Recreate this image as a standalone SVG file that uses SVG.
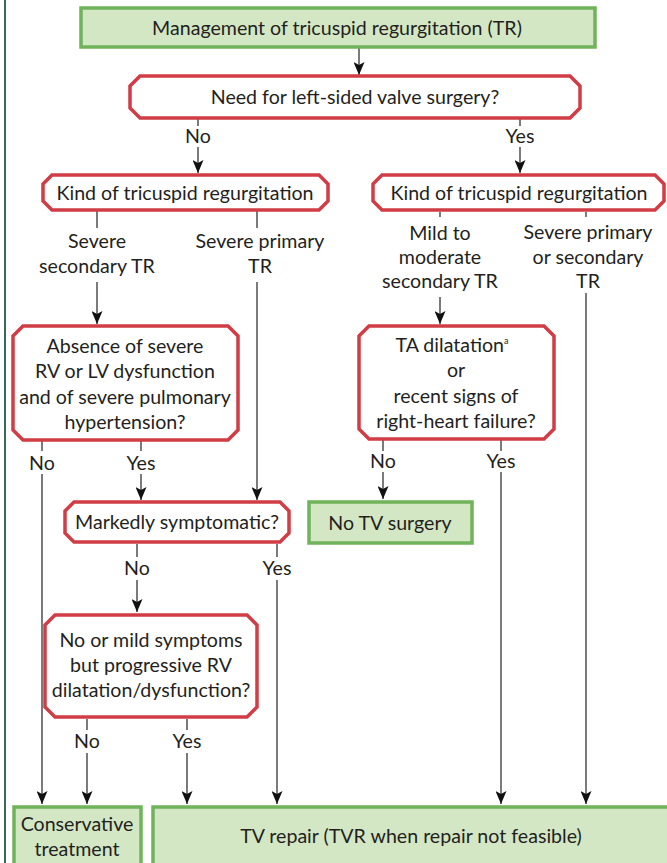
<svg xmlns="http://www.w3.org/2000/svg" width="667" height="863" viewBox="0 0 667 863">
<defs>
<style>
.bg{fill:#ffffff}
.q{fill:#ffffff;stroke:#d13c45;stroke-width:3.5;stroke-linejoin:miter}
.g{fill:#d4e7c4;stroke:#6fb35a;stroke-width:3.5}
text{font-family:Lato,"Open Sans","Liberation Sans",sans-serif;font-size:19.6px;fill:#231f20;text-anchor:middle}
.c line{stroke:#333333;stroke-width:1.3;fill:none}
.c line.a{marker-end:url(#ah)}
</style>
<marker id="ah" markerUnits="userSpaceOnUse" markerWidth="13" markerHeight="11" viewBox="0 0 13 11" refX="13" refY="5.5" orient="auto">
<path d="M0,0 L3,5.5 L0,11 L13,5.5 Z" fill="#111111"/>
</marker>
</defs>
<rect class="bg" x="0" y="0" width="667" height="863"/>
<line x1="5" y1="0" x2="5" y2="863" stroke="#1f5c48" stroke-width="1.8"/>

<g id="connectors" class="c">
<line class="a" x1="359" y1="48" x2="359" y2="75"/>
<line x1="198" y1="118" x2="198" y2="126"/>
<line class="a" x1="198" y1="147" x2="198" y2="173"/>
<line x1="520" y1="118" x2="520" y2="126"/>
<line class="a" x1="520" y1="147" x2="520" y2="173"/>
<line x1="97" y1="211" x2="97" y2="228"/>
<line class="a" x1="97" y1="282" x2="97" y2="324"/>
<line x1="257" y1="211" x2="257" y2="228"/>
<line class="a" x1="257" y1="282" x2="257" y2="500"/>
<line x1="440" y1="212" x2="440" y2="217"/>
<line class="a" x1="440" y1="297" x2="440" y2="324"/>
<line x1="586" y1="212" x2="586" y2="217"/>
<line class="a" x1="586" y1="293" x2="586" y2="804"/>
<line x1="42" y1="441" x2="42" y2="451"/>
<line class="a" x1="42" y1="474" x2="42" y2="804"/>
<line x1="141" y1="441" x2="141" y2="451"/>
<line class="a" x1="141" y1="474" x2="141" y2="500"/>
<line x1="383" y1="440" x2="383" y2="451"/>
<line class="a" x1="383" y1="472" x2="383" y2="499"/>
<line x1="501" y1="440" x2="501" y2="451"/>
<line class="a" x1="501" y1="472" x2="501" y2="804"/>
<line x1="137" y1="544" x2="137" y2="557"/>
<line class="a" x1="137" y1="580" x2="137" y2="612"/>
<line x1="277" y1="544" x2="277" y2="557"/>
<line class="a" x1="277" y1="580" x2="277" y2="804"/>
<line x1="87" y1="719" x2="87" y2="730"/>
<line class="a" x1="87" y1="753" x2="87" y2="804"/>
<line x1="187" y1="719" x2="187" y2="730"/>
<line class="a" x1="187" y1="753" x2="187" y2="804"/>
</g>

<g id="labels">
<text x="198" y="143">No</text>
<text x="520" y="143">Yes</text>
<text x="97" y="248">Severe</text>
<text x="97" y="273">secondary TR</text>
<text x="260" y="248">Severe primary</text>
<text x="260" y="273">TR</text>
<text x="440" y="240">Mild to</text>
<text x="440" y="264">moderate</text>
<text x="440" y="288">secondary TR</text>
<text x="588" y="239">Severe primary</text>
<text x="588" y="264">or secondary</text>
<text x="588" y="288">TR</text>
<text x="42" y="470">No</text>
<text x="141" y="470">Yes</text>
<text x="383" y="468">No</text>
<text x="501" y="468">Yes</text>
<text x="137" y="575">No</text>
<text x="277" y="575">Yes</text>
<text x="87" y="748">No</text>
<text x="187" y="748">Yes</text>
</g>

<g id="n-title">
<rect class="g" x="81" y="8" width="514" height="39"/>
<text x="337" y="35">Management of tricuspid regurgitation (TR)</text>
</g>
<g id="n-left-sided">
<path class="q" d="M140,76 H570 L580,86 V108 L570,118 H140 L130,108 V86 Z"/>
<text x="355" y="104">Need for left-sided valve surgery?</text>
</g>
<g id="n-kind-left">
<path class="q" d="M52,175 H319 L328,184 V201 L319,210 H52 L43,201 V184 Z"/>
<text x="185" y="200">Kind of tricuspid regurgitation</text>
</g>
<g id="n-kind-right">
<path class="q" d="M382,175 H655 L664,184 V201 L655,210 H382 L373,201 V184 Z"/>
<text x="519" y="200">Kind of tricuspid regurgitation</text>
</g>
<g id="n-absence">
<path class="q" d="M23,326 H228 L238,336 V430 L228,440 H23 L13,430 V336 Z"/>
<text x="125" y="353">Absence of severe</text>
<text x="125" y="378">RV or LV dysfunction</text>
<text x="125" y="404">and of severe pulmonary</text>
<text x="125" y="429">hypertension?</text>
</g>
<g id="n-ta">
<path class="q" d="M369,326 H544 L554,336 V429 L544,439 H369 L359,429 V336 Z"/>
<text x="452" y="352">TA dilatation<tspan font-size="9" dy="-8">a</tspan></text>
<text x="456" y="377">or</text>
<text x="456" y="403">recent signs of</text>
<text x="456" y="428">right-heart failure?</text>
</g>
<g id="n-no-tv">
<rect class="g" x="309" y="502" width="163" height="41"/>
<text x="390" y="530">No TV surgery</text>
</g>
<g id="n-markedly">
<path class="q" d="M74,502 H280 L289,511 V533 L280,542 H74 L65,533 V511 Z"/>
<text x="177" y="529">Markedly symptomatic?</text>
</g>
<g id="n-mild">
<path class="q" d="M55,615 H247 L257,625 V707 L247,717 H55 L45,707 V625 Z"/>
<text x="151" y="647">No or mild symptoms</text>
<text x="151" y="672">but progressive RV</text>
<text x="151" y="697">dilatation/dysfunction?</text>
</g>
<g id="n-conservative">
<rect class="g" x="14" y="807" width="127" height="58"/>
<text x="77" y="831">Conservative</text>
<text x="77" y="856">treatment</text>
</g>
<g id="n-repair">
<rect class="g" x="153" y="807" width="516" height="58"/>
<text x="411" y="843">TV repair (TVR when repair not feasible)</text>
</g>
</svg>
